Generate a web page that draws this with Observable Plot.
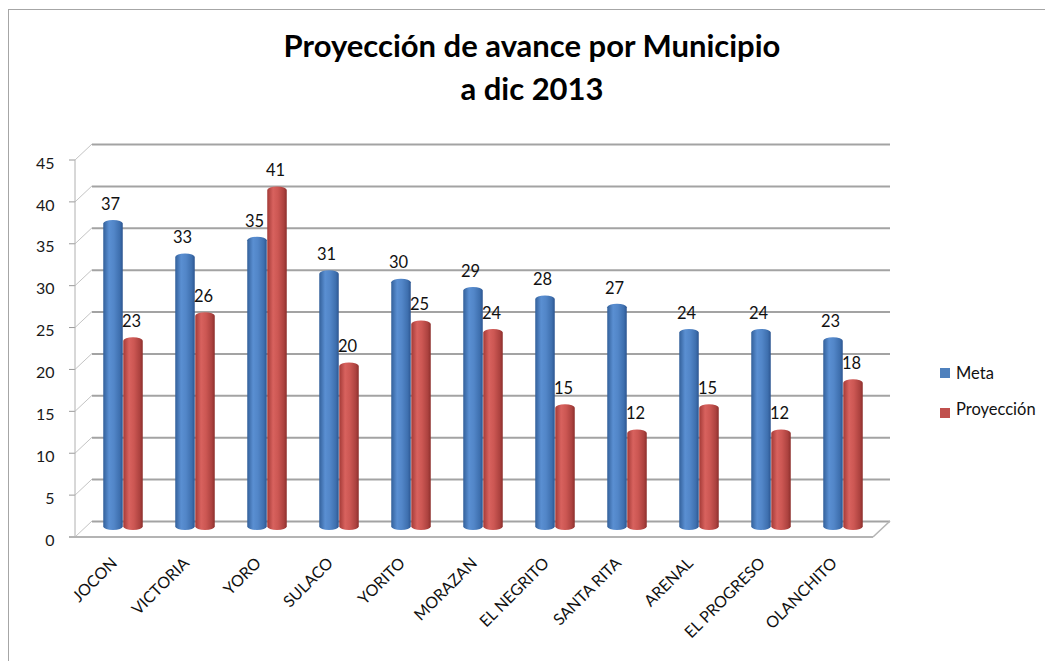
<!DOCTYPE html>
<html><head><meta charset="utf-8">
<script src="https://cdn.jsdelivr.net/npm/d3@7"></script>
<script src="https://cdn.jsdelivr.net/npm/@observablehq/plot@0.6"></script>
<style>
body{margin:0;background:#fff;font-family:Lato,sans-serif;}
#wrap{position:relative;width:1045px;height:661px;overflow:hidden;background:#fff;}
#border{position:absolute;left:8px;top:9px;width:1100px;height:700px;border:1px solid #a6a6a6;box-sizing:border-box;}
.title{position:absolute;left:0;width:1064px;text-align:center;font-family:Lato;font-weight:bold;font-size:31px;line-height:1.2;color:#000;white-space:nowrap;}
#chart{position:absolute;left:0;top:0;}
.leg{position:absolute;left:940px;font-family:Lato;font-size:16.5px;line-height:1.2;color:#111;}
.leg span.sw{position:absolute;left:0;width:10px;height:10px;}
.leg span.lb{position:absolute;left:16px;white-space:nowrap;}
</style>
</head><body>
<div id="wrap">
  <div id="border"></div>
  <div id="chart"></div>
  <div class="title" id="t1" style="top:27px"></div>
  <div class="title" id="t2" style="top:70px"></div>
  <div id="legend"></div>
</div>
<script>
const titleLines = ["Proyección de avance por Municipio", "a dic 2013"];
const categories = ["JOCON","VICTORIA","YORO","SULACO","YORITO","MORAZAN","EL NEGRITO","SANTA RITA","ARENAL","EL PROGRESO","OLANCHITO"];
const meta = [37,33,35,31,30,29,28,27,24,24,23];
const proyeccion = [23,26,41,20,25,24,15,12,15,12,18];
const yTicks = [0,5,10,15,20,25,30,35,40,45];
const seriesNames = ["Meta","Proyección"];
const seriesColors = ["#4F81BD","#C0504D"];

document.getElementById("t1").textContent = titleLines[0];
document.getElementById("t2").textContent = titleLines[1];

const metaData = categories.map((c,i)=>({cat:c, value:meta[i]}));
const proyData = categories.map((c,i)=>({cat:c, value:proyeccion[i]}));

const DEPTH = 17, LIFT = 16;

function defs(){
  const svg = d3.create("svg:defs");
  const mk = (id, stops) => {
    const g = svg.append("linearGradient").attr("id", id).attr("x1","0").attr("x2","1").attr("y1","0").attr("y2","0");
    stops.forEach(([o,c]) => g.append("stop").attr("offset", o).attr("stop-color", c));
  };
  mk("gBlue", [["0%","#33609a"],["30%","#5a8fd2"],["55%","#5286c8"],["85%","#3e6fae"],["100%","#2c5590"]]);
  mk("gRed", [["0%","#a33a37"],["30%","#d8625e"],["55%","#cc5753"],["85%","#ac423f"],["100%","#8c2f2c"]]);
  return svg.node();
}

function frame3d(index, scales, values, dims){
  const g = d3.create("svg:g").attr("fill","none");
  const l = dims.marginLeft;
  const xb = dims.width - dims.marginRight;
  const y0 = scales.y(0), yTop = scales.y(yTicks[yTicks.length-1]);
  for (const t of yTicks) {
    const y = scales.y(t);
    g.append("line").attr("x1", l).attr("x2", l+DEPTH).attr("y1", y).attr("y2", y-LIFT).attr("stroke","#c4c4c4");
    g.append("line").attr("x1", l-6).attr("x2", l).attr("y1", y).attr("y2", y).attr("stroke","#9a9a9a");
  }
  g.append("line").attr("x1", l).attr("x2", l).attr("y1", yTop).attr("y2", y0).attr("stroke","#b0b0b0");
  g.append("line").attr("x1", l-6).attr("x2", xb-DEPTH).attr("y1", y0).attr("y2", y0).attr("stroke","#b4b4b4").attr("stroke-width",2);
  g.append("line").attr("x1", xb-DEPTH).attr("x2", xb).attr("y1", y0).attr("y2", y0-LIFT).attr("stroke","#b4b4b4").attr("stroke-width",1.5);
  return g.node();
}

const chart = Plot.plot({
  width: 1045,
  height: 661,
  marginLeft: 75,
  marginRight: 155,
  marginTop: 160,
  marginBottom: 124,
  style: {fontFamily: "Lato", background: "transparent", overflow: "visible"},
  x: {type: "band", domain: categories, range: [83.75, 881.25], padding: 0, axis: null},
  y: {domain: [0, 45], range: [537, 160], axis: null},
  marks: [
    defs,
    Plot.ruleY(yTicks, {y: d => d, dy: -LIFT, insetLeft: DEPTH, stroke: "#a3a3a3", strokeWidth: 2}),
    frame3d,
    Plot.axisY({ticks: yTicks, tickSize: 0, tickPadding: 21, fontSize: 16, dy: 3, label: null, fill: "#1a1a1a", tickFormat: d => String(d)}),
    Plot.barY(metaData, {x: "cat", y: "value", dx: -10, dy: -7, insetLeft: 26.25, insetRight: 26.25, rx: 10, ry: 3.5, fill: "url(#gBlue)"}),
    Plot.barY(proyData, {x: "cat", y: "value", dx: 10, dy: -7, insetLeft: 26.25, insetRight: 26.25, rx: 10, ry: 3.5, fill: "url(#gRed)"}),
    Plot.text(metaData, {x: "cat", y: "value", text: d => String(d.value), dx: -13, dy: -23, fontSize: 16.5, fill: "#111"}),
    Plot.text(proyData, {x: "cat", y: "value", text: d => String(d.value), dx: 8, dy: -23, fontSize: 16.5, fill: "#111"}),
    Plot.text(categories, {x: d => d, y: () => 0, text: d => d, dx: -9, dy: 23, rotate: -45, textAnchor: "end", fontSize: 16, fill: "#111"})
  ]
});
document.getElementById("chart").appendChild(chart);

const legend = document.getElementById("legend");
const legTops = [364, 400];
seriesNames.forEach((name, i) => {
  const d = document.createElement("div");
  d.className = "leg";
  d.style.top = legTops[i] + "px";
  d.innerHTML = `<span class="sw" style="top:${4 + (i?4:0)}px;background:${seriesColors[i]}"></span><span class="lb"></span>`;
  d.querySelector(".lb").textContent = name;
  legend.appendChild(d);
});
</script>
</body></html>
